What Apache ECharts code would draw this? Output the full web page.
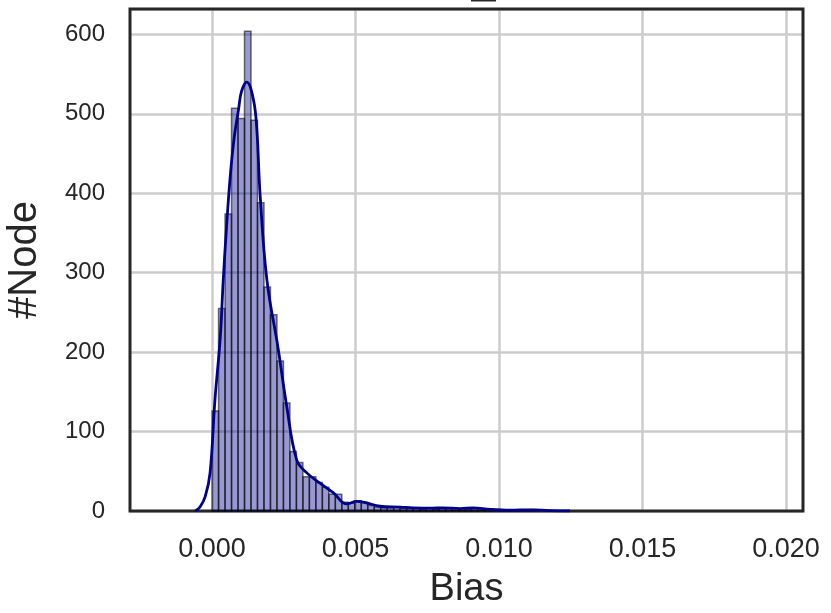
<!DOCTYPE html>
<html>
<head>
<meta charset="utf-8">
<script src="https://cdn.jsdelivr.net/npm/echarts@6/dist/echarts.min.js"></script>
<style>
  html, body { margin: 0; padding: 0; background: #fff; }
  #chart { width: 831px; height: 613px; }
</style>
</head>
<body>
<div id="chart"></div>
<script>
// histogram bins (50 equal bins)
const binMin = 0.0
const binWidth = 0.000226
const binCounts = [
  126, 255, 374, 507, 494, 604, 492, 388, 282, 247,
  189, 136, 75, 61, 43, 43, 36, 30, 21, 21,
  11, 10, 13, 11, 7, 5, 4, 4, 5, 3,
  3, 4, 2, 1, 2, 3, 3, 1, 1, 2,
  3, 1, 0, 1, 0, 0, 0, 0, 0, 2
]

// kde curve
const kdeX = [-0.00059, -0.00042, -0.00024, -0.00007, 0.0001, 0.00028, 0.00039, 0.00049, 0.00063,
  0.00077, 0.00092, 0.00103, 0.00121, 0.00144, 0.00156, 0.00167, 0.00191, 0.0023, 0.0026,
  0.00295, 0.0033, 0.00376, 0.00422, 0.00469, 0.00504, 0.00539, 0.00585, 0.00655, 0.007,
  0.0076, 0.00805, 0.00864, 0.00909, 0.00969, 0.01038, 0.01108, 0.01178, 0.01247]
const kdeY = [0, 5, 18, 48, 140, 216, 291, 350, 420,
  470, 505, 529, 540, 518, 480, 400, 291, 205, 132,
  64, 48, 35, 23, 9, 12, 10, 6, 5, 4,
  3.5, 4, 3, 4, 2, 1, 1.5, 0.5, 0]

const xTicks = [0, 0.005, 0.01, 0.015, 0.02]

const textColor = '#262626'
const font = 'Liberation Sans, Arial, sans-serif'
const xMin = -0.00286
const xMax = 0.02059
const yMax = 632

const binData = binCounts.map((c, i) => [binMin + i * binWidth, binMin + (i + 1) * binWidth, c])
const kdeData = kdeX.map((x, i) => [x, kdeY[i]])

const chart = echarts.init(document.getElementById('chart'))
chart.setOption({
  animation: false,
  backgroundColor: '#fff',
  grid: { left: 130, right: 28, top: 9, bottom: 102, show: false, outerBoundsMode: 'none', containLabel: false },
  graphic: [
    { type: 'rect', left: 471, top: 0, shape: { width: 25, height: 1.5 }, style: { fill: '#262626' } }
  ],
  xAxis: {
    type: 'value',
    min: xMin,
    max: xMax,
    name: 'Bias',
    nameLocation: 'middle',
    nameGap: 60,
    nameTextStyle: { fontSize: 38, color: textColor, fontFamily: font },
    axisLine: { show: false },
    axisTick: { show: false, customValues: xTicks },
    axisLabel: {
      customValues: xTicks,
      margin: 25,
      fontSize: 27,
      color: textColor,
      fontFamily: font,
      formatter: v => v.toFixed(3)
    },
    splitLine: { show: true, lineStyle: { color: '#cccccc', width: 2.5 } }
  },
  yAxis: {
    type: 'value',
    min: 0,
    max: yMax,
    interval: 100,
    name: '#Node',
    nameLocation: 'middle',
    nameGap: 85,
    nameTextStyle: { fontSize: 40, color: textColor, fontFamily: font },
    axisLine: { show: false },
    axisTick: { show: false },
    axisLabel: {
      margin: 25,
      fontSize: 24,
      color: textColor,
      fontFamily: font,
      showMaxLabel: false
    },
    splitLine: { show: true, lineStyle: { color: '#cccccc', width: 2.5 } }
  },
  series: [
    {
      type: 'custom',
      data: binData,
      z: 2,
      renderItem: (params, api) => {
        const p0 = api.coord([api.value(0), 0])
        const p1 = api.coord([api.value(1), api.value(2)])
        return {
          type: 'rect',
          shape: { x: p0[0], y: p1[1], width: p1[0] - p0[0], height: p0[1] - p1[1] },
          style: { fill: 'rgba(0,0,139,0.4)', stroke: 'rgba(0,0,0,0.55)', lineWidth: 1.5 }
        }
      }
    },
    {
      type: 'line',
      data: kdeData,
      smooth: 0.4,
      showSymbol: false,
      z: 3,
      lineStyle: { color: '#00008b', width: 2.8 }
    },
    {
      // plot frame
      type: 'line',
      data: [],
      markArea: {
        silent: true,
        itemStyle: { color: 'transparent', borderColor: '#262626', borderWidth: 3 },
        data: [[{ coord: [xMin, 0] }, { coord: [xMax, yMax] }]]
      },
      z: 5
    }
  ]
})
</script>
</body>
</html>
